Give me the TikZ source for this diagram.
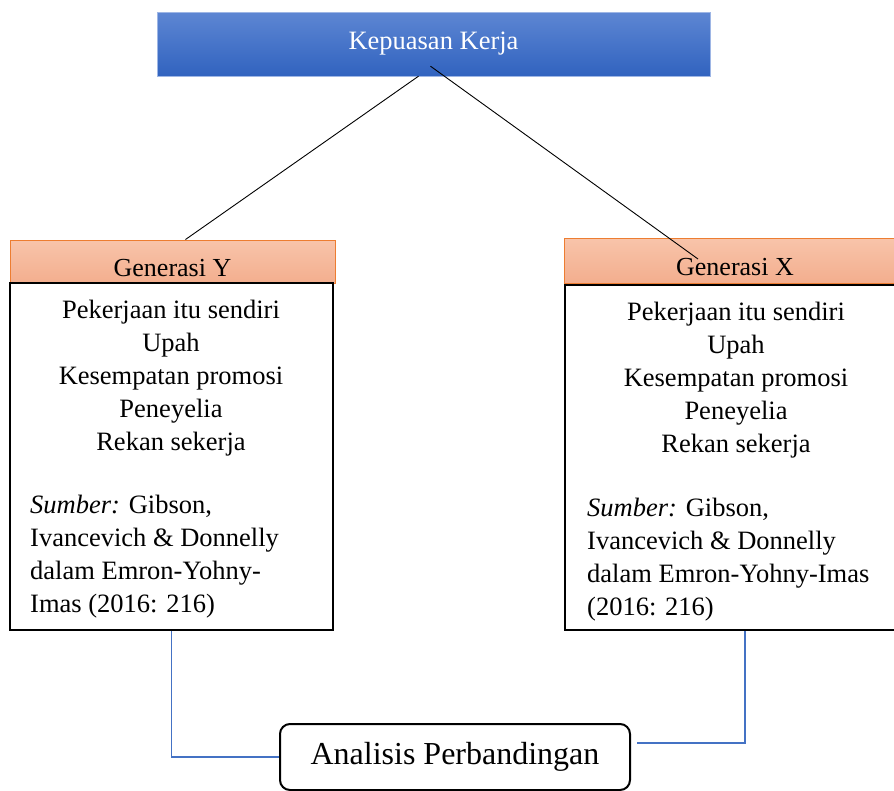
\documentclass[tikz,border=0pt]{standalone}
\usepackage{fontspec}
\setmainfont{Liberation Serif}
\usetikzlibrary{positioning,calc}
\definecolor{topblue}{HTML}{5D86D3}
\definecolor{botblue}{HTML}{3163BF}
\definecolor{headtop}{HTML}{F8C4AA}
\definecolor{headbot}{HTML}{F3AE8E}
\definecolor{headline}{HTML}{ED7D31}
\definecolor{linkblue}{HTML}{4472C4}
\tikzset{
  titlebox/.style={rectangle, draw=topblue!60, top color=topblue, bottom color=botblue,
    text=white, minimum width=553pt, minimum height=64pt, inner sep=0pt,
    font=\fontsize{26.5}{32}\selectfont},
  headbox/.style={rectangle, draw=headline, line width=1pt, top color=headtop,
    bottom color=headbot, inner sep=0pt, text height=30pt, text depth=0pt,
    font=\fontsize{26}{32}\selectfont},
  bodybox/.style={rectangle, draw=black, line width=2pt, fill=white, inner sep=0pt},
  listtext/.style={align=center, inner sep=0pt, font=\fontsize{26.5}{33}\selectfont},
  srctext/.style={align=left, anchor=west, inner sep=0pt, font=\fontsize{26.5}{33}\selectfont},
  endbox/.style={rectangle, draw=black, line width=2pt, rounded corners=10pt, fill=white,
    minimum width=350pt, minimum height=66pt, inner sep=0pt,
    font=\fontsize{32}{38}\selectfont},
  link/.style={line width=0.9pt, draw=black},
  bluelink/.style={line width=1.2pt, draw=linkblue}
}
\begin{document}
\begin{tikzpicture}[x=1pt,y=-1pt]
  \useasboundingbox (0,0) rectangle (894,790);
  \clip (0,0) rectangle (894,790);
  % top
  \node[titlebox] (kepuasan) at (433.5,44) {Kepuasan Kerja};
  % Generasi Y
  \node[headbox, minimum width=325pt, minimum height=43pt] (genY) at (172.5,261.5) {Generasi Y};
  \node[bodybox, minimum width=323pt, minimum height=347pt] (bodyY) at (171.5,456.5) {};
  \node[listtext] (listY) at (171,378) {Pekerjaan itu sendiri\\Upah\\Kesempatan promosi\\Peneyelia\\Rekan sekerja};
  \node[srctext] (srcY) at (30,557) {\textit{Sumber:} Gibson,\\Ivancevich \& Donnelly\\dalam Emron-Yohny-\\Imas (2016: 216)};
  % Generasi X
  \node[headbox, minimum width=342pt, minimum height=45pt] (genX) at (735,260.5) {Generasi X};
  \node[bodybox, minimum width=341pt, minimum height=345pt] (bodyX) at (735.5,457.5) {};
  \node[listtext] (listX) at (736,380) {Pekerjaan itu sendiri\\Upah\\Kesempatan promosi\\Peneyelia\\Rekan sekerja};
  \node[srctext] (srcX) at (587,560) {\textit{Sumber:} Gibson,\\Ivancevich \& Donnelly\\dalam Emron-Yohny-Imas\\(2016: 216)};
  % bottom
  \node[endbox] (analisis) at (455,757) {Analisis Perbandingan};
  % connectors
  \draw[link] ([xshift=-15pt]kepuasan.south) -- ([xshift=13pt]genY.north);
  \draw[link] ([xshift=-3pt,yshift=10pt]kepuasan.south) -- ([xshift=-37pt,yshift=1.5pt]genX.center);
  \draw[bluelink] (bodyY.south) |- (analisis.west);
  \draw[bluelink] ([xshift=9.5pt]bodyX.south) |- ([yshift=14pt,xshift=6pt]analisis.east);
\end{tikzpicture}
\end{document}
